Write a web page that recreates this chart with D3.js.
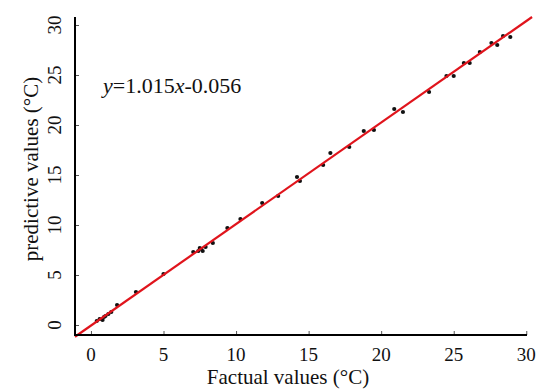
<!DOCTYPE html>
<html>
<head>
<meta charset="utf-8">
<script src="https://cdn.jsdelivr.net/npm/d3@7"></script>
<style>
  body { margin: 0; background: #fff; }
  svg text { font-family: "Liberation Serif", "Times New Roman", serif; fill: #111; }
</style>
</head>
<body>
<svg id="chart" width="537" height="389"></svg>
<script>
var factual = [0.4, 0.6, 0.8, 0.9, 1.0, 1.2, 1.4, 1.8, 3.1, 5.0,
               7.05, 7.4, 7.5, 7.6, 7.7, 7.9, 8.4, 9.4, 10.3, 11.8, 12.9,
               14.2, 14.4, 16.0, 16.5, 17.8, 18.8, 19.5, 20.9, 21.5, 23.3,
               24.5, 25.0, 25.7, 26.1, 26.8, 27.6, 28.0, 28.4, 28.9];
var predictive = [0.4, 0.6, 0.5, 0.8, 0.9, 1.1, 1.3, 2.0, 3.3, 5.1,
                  7.3, 7.4, 7.7, 7.6, 7.4, 7.8, 8.2, 9.7, 10.6, 12.2, 12.9,
                  14.8, 14.4, 16.0, 17.2, 17.8, 19.4, 19.5, 21.6, 21.3, 23.3,
                  24.9, 24.9, 26.2, 26.2, 27.3, 28.2, 28.0, 28.9, 28.8];
var ticks = [0, 5, 10, 15, 20, 25, 30];
var slope = 1.015, intercept = -0.056;

var svg = d3.select("#chart");
var pLeft = 75, pRight = 527, pTop = 17, pBottom = 335;

var x = d3.scaleLinear().domain([-1.1, 30.05]).range([pLeft, pRight]);
var y = d3.scaleLinear().domain([-1, 30.8]).range([pBottom, pTop]);

// points
var pts = factual.map(function(d, i) { return {x: d, y: predictive[i]}; });
svg.append("g")
    .selectAll("circle")
    .data(pts)
    .enter()
    .append("circle")
    .attr("cx", function(d) { return x(d.x); })
    .attr("cy", function(d) { return y(d.y); })
    .attr("r", 2.1)
    .style("fill", "#111");

// fitted line
var x0 = -1.1, x1 = 30.4;
svg.append("line")
    .attr("x1", x(x0)).attr("y1", y(slope * x0 + intercept))
    .attr("x2", x(x1)).attr("y2", y(slope * x1 + intercept))
    .style("stroke", "#e0141c")
    .style("stroke-width", 2.2);

// axes, ticks pointing inward
var xAxis = svg.append("g")
    .attr("transform", "translate(0," + pBottom + ")")
    .call(d3.axisTop(x).tickValues(ticks).tickSize(4).tickFormat(""));
var yAxis = svg.append("g")
    .attr("transform", "translate(" + pLeft + ",0)")
    .call(d3.axisRight(y).tickValues(ticks).tickSize(4).tickFormat(""));
[xAxis, yAxis].forEach(function(a) {
    a.select(".domain").remove();
    a.selectAll(".tick line").style("stroke", "#555").style("stroke-width", 1);
});
svg.append("line").attr("x1", pLeft).attr("x2", pRight)
    .attr("y1", pBottom).attr("y2", pBottom)
    .style("stroke", "#000").style("stroke-width", 2);
svg.append("line").attr("x1", pLeft).attr("x2", pLeft)
    .attr("y1", pTop).attr("y2", pBottom + 1)
    .style("stroke", "#000").style("stroke-width", 2);

// tick labels
svg.append("g")
    .selectAll("text")
    .data(ticks)
    .enter()
    .append("text")
    .attr("x", function(d) { return x(d); })
    .attr("y", 361)
    .attr("text-anchor", "middle")
    .style("font-size", "19px")
    .text(function(d) { return d; });

svg.append("g")
    .selectAll("text")
    .data(ticks)
    .enter()
    .append("text")
    .attr("transform", function(d) { return "translate(61," + y(d) + ") rotate(-90)"; })
    .attr("text-anchor", "middle")
    .style("font-size", "19px")
    .text(function(d) { return d; });

// axis titles
svg.append("text")
    .attr("x", 288).attr("y", 384)
    .attr("text-anchor", "middle")
    .style("font-size", "21px")
    .text("Factual values (°C)");

svg.append("text")
    .attr("transform", "translate(38,169) rotate(-90)")
    .attr("text-anchor", "middle")
    .style("font-size", "21px")
    .text("predictive values (°C)");

// regression equation
var eq = svg.append("text")
    .attr("x", 103).attr("y", 93)
    .style("font-size", "22px");
eq.append("tspan").style("font-style", "italic").text("y");
eq.append("tspan").text("=1.015");
eq.append("tspan").style("font-style", "italic").text("x");
eq.append("tspan").text("-0.056");
</script>
</body>
</html>
